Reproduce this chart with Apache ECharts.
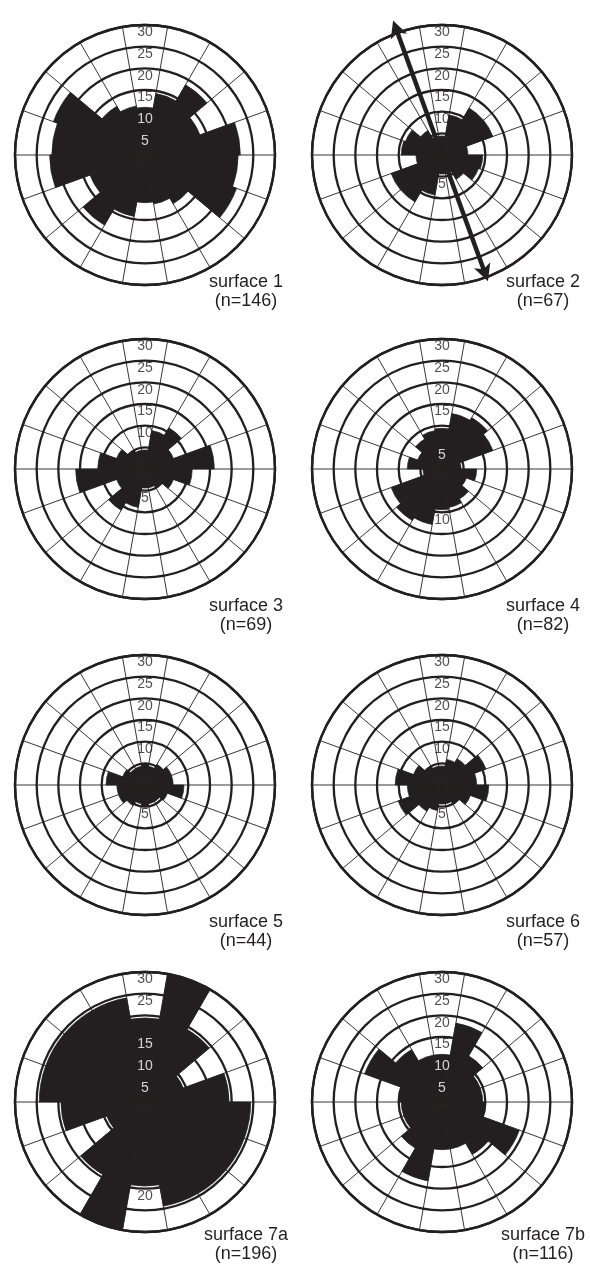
<!DOCTYPE html>
<html>
<head>
<meta charset="utf-8">
<title>Rose diagrams</title>
<script src="https://cdn.jsdelivr.net/npm/echarts@6/dist/echarts.min.js"></script>
<style>
    html, body { margin: 0; padding: 0; background: #fff; }
    #chart { width: 590px; height: 1269px; }
</style>
</head>
<body>
<div id="chart"></div>
<script>
// 20 degree classes, compass bearing of the class centre
const sectors = ['0°', '20°', '40°', '60°', '80°', '100°', '120°', '140°', '160°',
    '180°', '200°', '220°', '240°', '260°', '280°', '300°', '320°', '340°']

// axial data: one value per class 0..160, drawn again on the opposite side
const surface1 = [11, 14.4, 18.7, 13.5, 22, 21.5, 22.5, 13, 11.5]
const surface2 = [4.4, 9.4, 12.5, 12.5, 6, 9.4, 9, 6.5, 4.4]
const surface3 = [4.4, 9, 11, 7, 16, 10.9, 7, 5, 4.4]
const surface4 = [9.4, 13, 13.7, 12.5, 4.4, 8, 6, 8, 9]
const surface5 = [5, 4.4, 5.5, 6.5, 6.5, 9, 5.5, 4.4, 4.4]
const surface6 = [4.4, 6, 7, 10.8, 8, 10.8, 7, 5, 4.4]
const surface7a = [19.4, 30, 19.4, 9.4, 19.4, 24.4, 24.4, 24.4, 24.4]
const surface7b = [11, 18.5, 12.3, 9.4, 9.4, 10, 19, 14, 11]

const names = ['surface 1', 'surface 2', 'surface 3', 'surface 4',
    'surface 5', 'surface 6', 'surface 7a', 'surface 7b']
const counts = [146, 67, 69, 82, 44, 57, 196, 116]

// ring labels written on the north line, and on the south line
const labelsNorth = [
    [30, 25, 20, 15, 10, 5], [30, 25, 20, 15, 10], [30, 25, 20, 15, 10], [30, 25, 20, 15, 5],
    [30, 25, 20, 15, 10], [30, 25, 20, 15, 10], [30, 25, 15, 10, 5], [30, 25, 20, 15, 10, 5],
]
const labelsSouth = [[], [5], [5], [10], [5], [5], [20], []]

// trend arrow on surface 2
const arrowAzimuth = [340, 160]
const arrowReach = [33, 31]

const classes = [surface1, surface2, surface3, surface4, surface5, surface6, surface7a, surface7b]

const ink = '#231f20'
const font = 'Liberation Sans, Arial, sans-serif'
const cols = [145, 442]
const rows = [155, 469, 785, 1102]
const titleRows = [283, 607, 923, 1236]

const polar = []
const angleAxis = []
const radiusAxis = []
const series = []
const title = []

classes.forEach((vals, i) => {
    const cx = cols[i % 2]
    const row = Math.floor(i / 2)
    const cy = rows[row]
    const rose = vals.concat(vals)

    polar.push({ center: [cx, cy], radius: 130 })
    angleAxis.push({
        polarIndex: i,
        type: 'category',
        data: sectors,
        startAngle: 100,
        clockwise: true,
        boundaryGap: true,
        axisLine: { lineStyle: { color: ink, width: 2.4 } },
        axisTick: { show: false },
        axisLabel: { show: false },
        splitLine: { show: true, lineStyle: { color: ink, width: 0.9 } },
    })
    radiusAxis.push({
        polarIndex: i,
        min: 0,
        max: 30,
        interval: 5,
        axisLine: { show: false },
        axisTick: { show: false },
        axisLabel: { show: false },
        splitLine: { show: true, lineStyle: { color: ink, width: 2.3 } },
    })
    series.push({
        type: 'bar',
        coordinateSystem: 'polar',
        polarIndex: i,
        data: rose,
        barCategoryGap: '0%',
        // thin border of the same ink hides the seams between petals
        itemStyle: { color: ink, borderColor: ink, borderWidth: 0.7 },
        silent: true,
    })

    // white text where the label falls on a black petal
    const north = labelsNorth[i].map((v) => ({
        value: [v, 0],
        label: { color: rose[0] > v - 1.7 ? '#ffffff' : ink },
    }))
    const south = labelsSouth[i].map((v) => ({
        value: [v, 9],
        label: { color: rose[9] > v + 1.7 ? '#ffffff' : ink },
    }))
    series.push({
        type: 'scatter',
        coordinateSystem: 'polar',
        polarIndex: i,
        symbolSize: 1,
        itemStyle: { color: 'rgba(0,0,0,0)' },
        z: 5,
        silent: true,
        data: north.concat(south),
        label: {
            show: true,
            position: 'inside',
            offset: [0, 7.5],
            formatter: (p) => String(p.value[0]),
            fontSize: 14,
            fontFamily: font,
        },
    })

    title.push({
        text: names[i],
        subtext: '(n=' + counts[i] + ')',
        left: cx + 101,
        top: titleRows[row] - 10,
        textAlign: 'center',
        padding: 0,
        itemGap: 1,
        textStyle: { color: ink, fontSize: 18, fontWeight: 'normal', fontFamily: font },
        subtextStyle: { color: ink, fontSize: 18, fontFamily: font },
    })
})

// overlay polar for the surface 2 arrow, same centre and scale
polar.push({ center: [cols[1], rows[0]], radius: 130 })
angleAxis.push({ polarIndex: 8, type: 'value', min: 0, max: 360, startAngle: 90, clockwise: true, show: false })
radiusAxis.push({ polarIndex: 8, min: 0, max: 30, show: false })
series.push({
    type: 'line',
    coordinateSystem: 'polar',
    polarIndex: 8,
    clip: false,
    z: 6,
    silent: true,
    lineStyle: { color: ink, width: 4.5 },
    itemStyle: { color: ink },
    symbol: 'arrow',
    symbolSize: [13, 17],
    data: arrowReach.map((r, k) => ({ value: [r, arrowAzimuth[k]], symbolRotate: -arrowAzimuth[k] })),
})

const chart = echarts.init(document.getElementById('chart'))
chart.setOption({
    animation: false,
    backgroundColor: '#ffffff',
    title,
    polar,
    angleAxis,
    radiusAxis,
    series,
})
</script>
</body>
</html>
